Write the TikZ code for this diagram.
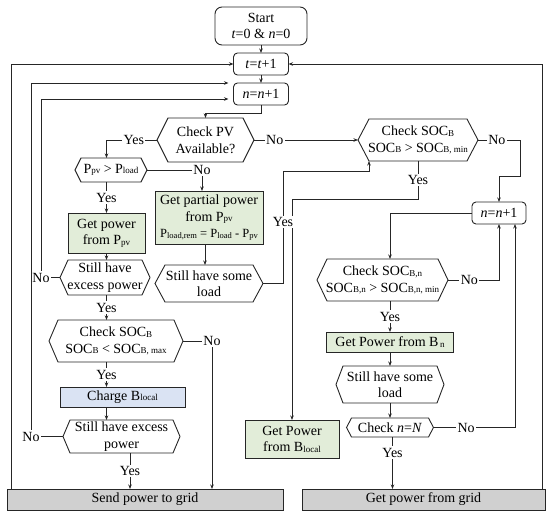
\documentclass[tikz,border=0pt]{standalone}
\usepackage{fontspec}
\setmainfont{Liberation Serif}
\usetikzlibrary{arrows.meta,calc}
\definecolor{boxgreen}{HTML}{E2EDD9}
\definecolor{boxblue}{HTML}{DAE3F3}
\definecolor{boxgray}{HTML}{D0D0D0}
\definecolor{ink}{HTML}{262626}
\newcommand{\sbs}[1]{\raisebox{-0.6pt}{\fontsize{9}{9}\selectfont #1}}
\newcommand{\sbss}[1]{\raisebox{-0.5pt}{\fontsize{8.5}{8.5}\selectfont #1}}
\newcommand{\hexnode}[7]{%
  \node[minimum width=#4, minimum height=#5] (#1) at (#2,#3) {#7};
  \draw[hexline] (#1.west) -- ([xshift=#6]#1.north west) -- ([xshift=-#6]#1.north east) -- (#1.east) -- ([xshift=-#6]#1.south east) -- ([xshift=#6]#1.south west) -- cycle;
}
\begin{document}
\begin{tikzpicture}[x=1pt,y=-1pt,
  every node/.style={font=\fontsize{14}{16.5}\selectfont, inner sep=0pt, outer sep=0pt, align=center},
  rbox/.style={draw=ink, line width=0.9pt, rounded corners=4pt, fill=white},
  pbox/.style={draw=ink, line width=0.9pt},
  hexline/.style={draw=ink, line width=0.9pt},
  conn/.style={draw=ink, line width=0.8pt},
  arr/.style={conn, -{Stealth[length=4.5pt,width=3.5pt]}},
  lbl/.style={fill=white, inner sep=1.5pt},
]
\useasboundingbox (0,0) rectangle (550,519);

% ---- nodes
\node[rbox, minimum width=92, minimum height=38, rounded corners=7pt] (start) at (261,26) {Start\\\textit{t}=0 \& \textit{n}=0};
\node[rbox, minimum width=55, minimum height=22] (tplus) at (261,64) {\textit{t}=\textit{t}+1};
\node[rbox, minimum width=55, minimum height=22] (nplus) at (261,94) {\textit{n}=\textit{n}+1};
\hexnode{checkpv}{205.5}{140}{97}{44}{11}{Check PV\\Available?}
\hexnode{ppv}{111}{170}{72}{24}{6}{P\sbs{pv} > P\sbs{load}}
\node[pbox, fill=boxgreen, minimum width=77, minimum height=40] (getpow) at (106.5,233) {Get power\\from P\sbs{pv}};
\hexnode{excessA}{105}{277.5}{90}{35}{8}{Still have\\excess power}
\hexnode{socbl}{116}{341}{134}{42}{9}{Check SOC\sbs{B}\\SOC\sbs{B} < SOC\sbs{B, max}}
\node[pbox, fill=boxblue, minimum width=125, minimum height=20] (charge) at (122.5,397) {Charge B\sbs{local}};
\hexnode{excessB}{121.5}{436.5}{117}{33}{7}{Still have excess\\power}
\node[pbox, fill=boxgray, minimum width=276, minimum height=21] (send) at (145,499.5) {Send power to grid};
\node[pbox, fill=boxgray, minimum width=243, minimum height=21] (getgrid) at (423.5,499.5) {Get power from grid};
\node[pbox, fill=boxgreen, minimum width=108, minimum height=53] (partial) at (209,217.5) {Get partial power\\from P\sbs{pv}\\{\fontsize{12.5}{14}\selectfont P\sbss{load,rem} = P\sbss{load} - P\sbss{pv}}};
\hexnode{loadA}{209}{283.5}{108}{37}{10}{Still have some\\load}
\hexnode{socbr}{418}{140}{120}{42}{11}{Check SOC\sbs{B}\\SOC\sbs{B} > SOC\sbs{B, min}}
\node[rbox, minimum width=54, minimum height=22] (nplusB) at (499,213) {\textit{n}=\textit{n}+1};
\hexnode{socbn}{382.5}{280}{131}{42}{10}{Check SOC\sbs{B,n}\\SOC\sbs{B,n} > SOC\sbs{B,n, min}}
\node[pbox, fill=boxgreen, minimum width=127, minimum height=20] (getbn) at (390,342) {Get Power from B\sbs{\,n}};
\hexnode{loadB}{390}{384.5}{108}{37}{7}{Still have some\\load}
\hexnode{checkN}{390}{427.5}{87}{19}{5}{Check \textit{n}=\textit{N}}
\node[pbox, fill=boxgreen, minimum width=94, minimum height=38] (getbl) at (292,439) {Get Power\\from B\sbs{local}};

% ---- connectors
\draw[arr] (start.south) -- (start.south |- tplus.north);
\draw[arr] (tplus.south) -- (nplus.north);
\draw[arr] (nplus.south) -- ++(0,8) -| (checkpv.north);
\draw[arr] (checkpv.west) -| node[lbl,pos=0.23]{Yes} (getpow.north |- ppv.north);
\draw[arr] (getpow.north |- ppv.south) -- node[lbl]{Yes} (getpow.north);
\draw[arr] (ppv.east) -| node[lbl,pos=0.5]{No} ([xshift=-7]partial.north);
\draw[arr] (getpow.south) -- (getpow.south |- excessA.north);
\draw[arr] (getpow.south |- excessA.south) -- node[lbl]{Yes} (getpow.south |- socbl.north);
\draw[arr] (getpow.south |- socbl.south) -- node[lbl]{Yes} (getpow.south |- charge.north);
\draw[arr] (getpow.south |- charge.south) -- (getpow.south |- excessB.north);
\draw[arr] ([xshift=8.5]excessB.south) -- node[lbl]{Yes} ([xshift=8.5]excessB.south |- send.north);
\draw[arr,shorten >=5pt] (excessA.west) -- ++(-19,0) node[lbl]{No} |- ([yshift=-5]nplus.west);
\draw[arr,shorten >=5pt] (excessB.west) -- ++(-32,0) node[lbl]{No} |- ([yshift=11]nplus.west);
\draw[arr] (socbl.east) -| node[lbl,pos=0.5]{No} ([xshift=29]socbl.east |- send.north);
\draw[arr] ([xshift=-4]partial.south) -- ([xshift=-4]partial.south |- loadA.north);
\draw[arr] (checkpv.east) -- node[lbl,pos=0.2]{No} (socbr.west);
\draw[arr] (socbr.south) -- node[lbl]{Yes} ++(0,38) -| (getbl.north);
\draw[arr] (loadA.east) -- ++(20,0) -- node[lbl,pos=0.55]{Yes} ++(0,-112) -| ([xshift=-49]socbr.south);
\draw[arr] (socbr.east) -- node[lbl,pos=0.45]{No} ++(42,0) -- ++(0,36) -| (nplusB.north);
\draw[arr] (nplusB.west) -| ([xshift=7.5]socbn.north);
\draw[arr] (socbn.east) -| node[lbl,pos=0.21]{No} (nplusB.south);
\draw[arr] ([xshift=7.5]socbn.south) -- node[lbl]{Yes} ([xshift=7.5]socbn.south |- getbn.north);
\draw[arr] (getbn.south) -- (getbn.south |- loadB.north);
\draw[arr] (loadB.south) -- (checkN.north);
\draw[arr] (checkN.east) -| node[lbl,pos=0.2]{No} ([xshift=16]nplusB.south);
\draw[arr] ([xshift=2.5]checkN.south) -- node[lbl,pos=0.3]{Yes} ([xshift=2.5]checkN.south |- getgrid.north);
\draw[arr] ([xshift=118.5]getgrid.north) |- (tplus.east);
\draw[arr] ([xshift=-134]send.north) |- (tplus.west);
\end{tikzpicture}
\end{document}
